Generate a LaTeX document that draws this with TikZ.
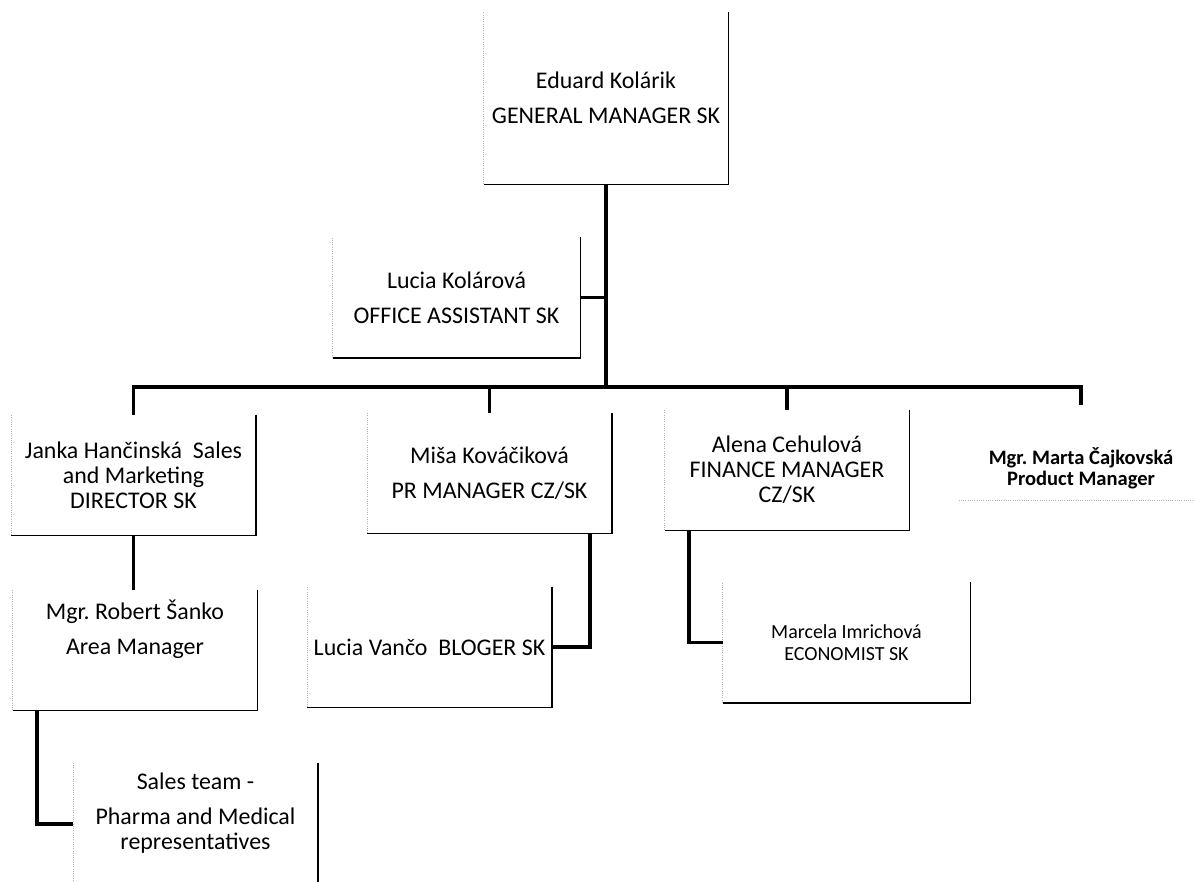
\documentclass[tikz,border=0pt]{standalone}
\usepackage{fontspec}
\setmainfont{Carlito}
\begin{document}
\begin{tikzpicture}[x=0.025cm, y=-0.025cm,
    box/.style={inner sep=2pt, align=center, minimum width=6.1cm,
                minimum height=3cm, font=\fontsize{17}{24.9}\selectfont},
    tight/.style={font=\fontsize{17}{17.8}\selectfont},
    small/.style={font=\fontsize{14.2}{15.6}\selectfont},
    link/.style={line width=2.6pt},
    frame/.style={line width=1pt},
    scan/.style={gray!60, densely dotted, line width=0.6pt},
  ]
    \useasboundingbox (0,0) rectangle (1194,881);
    \clip (0,0) rectangle (1194,881);

    % Top of the chart
    \node[box, minimum height=4.3cm]      (gm)     at (606,98)      {Eduard Kolárik\\GENERAL MANAGER SK};
    \node[box, minimum width=6.175cm]     (office) at (456.5,297.5) {Lucia Kolárová\\OFFICE ASSISTANT SK};
    \coordinate (bus) at (606,387);

    % Second row
    \node[box, tight]                     (janka)  at (133.5,475)   {Janka Hančinská~ Sales\\and Marketing\\DIRECTOR SK};
    \node[box]                            (misa)   at (489.5,473)   {Miša Kováčiková\\PR MANAGER CZ/SK};
    \node[box, tight]                     (alena)  at (787,470)     {Alena Cehulová\\FINANCE MANAGER\\CZ/SK};
    \node[box, minimum height=2.375cm, font=\fontsize{14.6}{14.6}\bfseries\selectfont]
                                          (marta)  at (1081,452.5)  {~\\[20pt]Mgr.\ Marta Čajkovská\\Product Manager};

    % Third row
    \node[box]                            (robert) at (135,650)     {Mgr.\ Robert Šanko\\Area Manager\\[8pt]~};
    \node[box]                            (vanco)  at (429.5,647)   {Lucia Vančo~ BLOGER SK};
    \node[box, small, minimum width=6.175cm] (marcela) at (846.5,642.5) {Marcela Imrichová\\ECONOMIST SK};
    \node[box, tight, minimum height=3.05cm] (sales) at (195.5,824) {Sales team -\\[7pt]Pharma and Medical\\representatives\\~};

    % Box edges
    \foreach \n in {gm,office,janka,misa,alena,robert,vanco,marcela,sales}{
      \draw[frame] (\n.north east) -- (\n.south east) -- (\n.south west);
      \draw[scan] (\n.south west) -- (\n.north west);
    }
    \draw[scan] (marta.south west) -- (marta.south east);

    % Lines
    \draw[link] (gm.south) -- (bus);
    \draw[link] (office.east) -- (office.east -| bus);
    \draw[link] (janka.north) |- (bus) -| (marta.north);
    \draw[link] (misa.north) -- (misa.north |- bus);
    \draw[link] (alena.north) -- (alena.north |- bus);
    \draw[link] (janka.south) -- (janka.south |- robert.north);
    \draw[link] ([xshift=0.6cm]robert.south west) |- (sales.west);
    \draw[link] ([xshift=-0.55cm]misa.south east) |- (vanco.east);
    \draw[link] ([xshift=0.6cm]alena.south west) |- (marcela.west);
  \end{tikzpicture}
\end{document}
